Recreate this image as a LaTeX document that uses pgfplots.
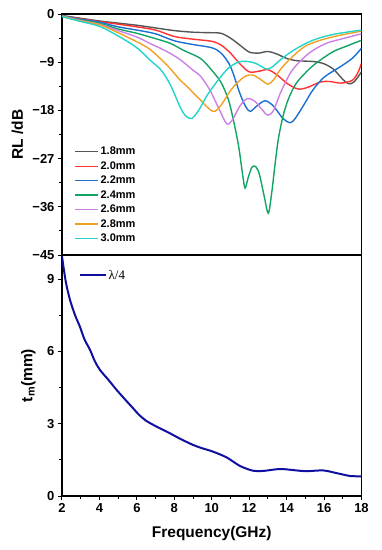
\documentclass[border=0pt]{standalone}
\usepackage{fontspec}
\setmainfont{Liberation Sans}
\newfontfamily\seriffont{Liberation Serif}
\usepackage{pgfplots}
\pgfplotsset{compat=1.18}
\definecolor{cA}{HTML}{555555}
\definecolor{cB}{HTML}{FF3333}
\definecolor{cC}{HTML}{1A6FD0}
\definecolor{cD}{HTML}{12A464}
\definecolor{cE}{HTML}{CC80E6}
\definecolor{cF}{HTML}{F2A024}
\definecolor{cG}{HTML}{22D4CA}
\definecolor{cH}{HTML}{1010A0}
\begin{document}
\begin{tikzpicture}
\path[use as bounding box] (-62pt,-295pt) rectangle (319pt,255pt);
\pgfplotsset{
 common/.style={width=299.5pt,height=241pt,scale only axis,xmin=2,xmax=18,
  axis line style={line width=1.6pt},
  every tick/.style={line width=1pt,black},
  tick align=outside, tick pos=left,
  major tick length=4pt, minor tick length=2.5pt,
  tick label style={font=\fontsize{13}{15}\selectfont\bfseries},
  /pgf/number format/assume math mode=true,
  label style={font=\fontsize{15.5}{18}\selectfont\bfseries},
  every axis plot/.append style={line width=1.4pt, smooth}}
}
\begin{axis}[common, at={(0,0)}, anchor=south west,
  ymin=-45, ymax=0, ytick={-45,-36,-27,-18,-9,0},
  yticklabels={−45,−36,−27,−18,−9,0}, minor y tick num=1,
  xtick=\empty,
  ylabel={RL /dB},
  ylabel style={at={(axis description cs:-0.149,0.5)},anchor=center},
  legend style={at={(rel axis cs:0.03,0.465)}, anchor=north west, draw=none, fill=none,
    font=\fontsize{11}{12}\selectfont\bfseries, row sep=1.3pt},
  legend cell align=left,
  legend image code/.code={\draw[#1,line width=1.4pt] (0pt,0pt) -- (23pt,0pt);}]
\addplot[color=cA] coordinates {(2,-0.3)(3,-0.8)(4,-1.3)(5,-1.7)(6,-2.1)(7,-2.6)(8,-3.1)(9,-3.4)(10,-3.5)(10.5,-3.6)(11,-4.5)(11.5,-5.8)(12,-7.1)(12.5,-7.3)(13,-7.0)(13.5,-7.5)(14,-8.3)(14.5,-8.7)(15,-8.8)(15.5,-8.9)(16,-9.3)(16.5,-10.3)(17,-12.2)(17.3,-13.0)(17.6,-12.7)(18,-10.8)};
\addlegendentry{1.8mm}
\addplot[color=cB] coordinates {(2,-0.3)(3,-0.9)(4,-1.4)(5,-1.9)(6,-2.4)(7,-3.0)(8,-4.2)(9,-4.7)(10,-5.1)(10.5,-5.8)(11,-7.3)(11.5,-9.3)(12,-10.8)(12.5,-10.7)(13,-10.4)(13.5,-11.4)(14,-12.9)(14.5,-13.9)(14.8,-14.0)(15.2,-13.6)(15.8,-12.7)(16.3,-12.6)(16.9,-12.9)(17.5,-12.4)(17.8,-11.0)(18,-9.2)};
\addlegendentry{2.0mm}
\addplot[color=cC] coordinates {(2,-0.3)(3,-1.0)(4,-1.5)(5,-2.4)(6,-3.0)(7,-3.7)(8,-5.0)(9,-5.7)(10,-6.3)(10.5,-7.3)(11,-9.8)(11.5,-14.8)(11.8,-17.2)(12.05,-18.2)(12.4,-17.2)(12.85,-16.2)(13.3,-17.2)(13.8,-19.5)(14.2,-20.3)(14.5,-19.3)(15,-16.5)(15.4,-14.2)(16,-11.8)(16.8,-10.0)(17.5,-8.3)(18,-6.4)};
\addlegendentry{2.2mm}
\addplot[color=cD] coordinates {(2,-0.4)(3,-1.1)(4,-1.7)(5,-2.8)(6,-3.6)(7,-4.6)(7.8,-5.5)(8.5,-6.8)(9.4,-8.3)(10,-10.5)(10.5,-12.8)(10.9,-16.1)(11.2,-20.5)(11.45,-25)(11.65,-30)(11.78,-32.5)(11.95,-30.5)(12.15,-28.6)(12.35,-28.5)(12.55,-30)(12.8,-34)(13.02,-37.2)(13.2,-33.5)(13.35,-29)(13.55,-23.5)(13.8,-19.2)(14.07,-16.1)(14.5,-13)(15.2,-10.3)(15.8,-8.6)(16.5,-7.0)(17.2,-6.0)(18,-4.9)};
\addlegendentry{2.4mm}
\addplot[color=cE] coordinates {(2,-0.4)(3,-1.2)(4,-1.9)(5,-3.1)(6,-4.3)(6.7,-5.5)(7.6,-7.0)(8.3,-8.5)(9,-10.5)(9.4,-11.6)(9.9,-14.2)(10.4,-17.8)(10.8,-20.5)(11.1,-19.8)(11.5,-17.2)(11.9,-15.8)(12.3,-16.3)(12.7,-17.9)(13,-18.9)(13.3,-18.0)(13.7,-14.5)(14.3,-10.5)(15.2,-7.3)(16.1,-5.5)(17,-4.6)(18,-3.7)};
\addlegendentry{2.6mm}
\addplot[color=cF] coordinates {(2,-0.4)(3,-1.3)(4,-2.0)(5,-3.5)(6,-5.2)(6.7,-6.6)(7.6,-9.5)(8.3,-12.3)(8.7,-13.6)(9.4,-16.1)(10.07,-18.2)(10.5,-17)(11,-14.3)(11.35,-12.9)(11.8,-11.6)(12.2,-11.4)(12.6,-12.2)(13,-13.1)(13.3,-12.3)(13.7,-10.2)(14.3,-8.0)(15,-6.0)(15.8,-4.9)(16.8,-4.0)(18,-3.2)};
\addlegendentry{2.8mm}
\addplot[color=cG] coordinates {(2,-0.5)(3,-1.4)(4,-2.3)(5,-4.1)(6,-6.3)(6.7,-8.6)(7.3,-10.5)(7.8,-13.3)(8.3,-17.3)(8.6,-19.0)(8.93,-19.5)(9.3,-18.0)(9.7,-15.5)(10.07,-13.6)(10.6,-11.2)(11,-9.8)(11.5,-8.9)(12,-8.9)(12.4,-9.3)(12.95,-10.3)(13.3,-9.7)(13.65,-8.6)(14.4,-6.7)(15.4,-4.9)(16.5,-3.8)(18,-3.0)};
\addlegendentry{3.0mm}
\end{axis}
\begin{axis}[common, at={(0,0)}, anchor=north west,
  ymin=0, ymax=10, ytick={0,3,6,9}, minor y tick num=1,
  xtick={2,4,...,18}, minor x tick num=1,
  xlabel={Frequency(GHz)},
  xlabel style={at={(axis description cs:0.5,-0.155)},anchor=center},
  ylabel={t\textsubscript{m}(mm)},
  ylabel style={at={(axis description cs:-0.112,0.5)},anchor=center},
  legend style={at={(rel axis cs:0.045,0.955)}, anchor=north west, draw=none, fill=none,
    font=\fontsize{13}{15}\selectfont\seriffont},
  legend image code/.code={\draw[#1,line width=2pt] (0pt,0pt) -- (26pt,0pt);}]
\addplot[color=cH, line width=2pt] coordinates {(2,9.95)(2.2,8.9)(2.43,8.13)(2.7,7.5)(2.96,7.02)(3.2,6.5)(3.5,6.06)(3.75,5.6)(4.03,5.23)(4.5,4.8)(4.92,4.40)(5.4,3.98)(5.8,3.64)(6.1,3.38)(6.5,3.12)(7.0,2.9)(7.77,2.6)(8.3,2.38)(9,2.12)(9.5,1.98)(10.07,1.84)(10.8,1.6)(11.5,1.25)(12.2,1.05)(12.75,1.04)(13.65,1.12)(14.54,1.06)(15.07,1.03)(15.96,1.06)(16.67,0.95)(17.4,0.83)(18,0.82)};
\addlegendentry{λ/4}
\end{axis}
\end{tikzpicture}
\end{document}
